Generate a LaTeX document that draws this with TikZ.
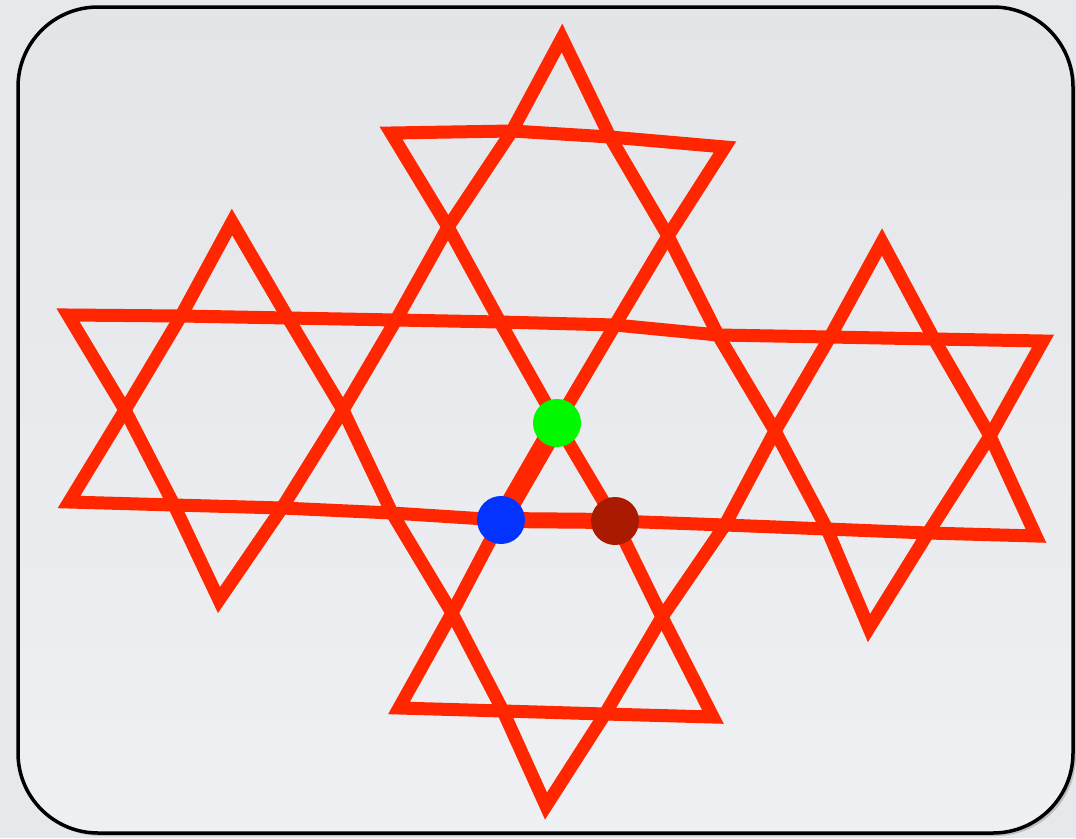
\documentclass[tikz,border=0pt]{standalone}
\definecolor{starred}{RGB}{255,38,0}
\definecolor{dotgreen}{RGB}{0,249,0}
\definecolor{dotblue}{RGB}{4,51,255}
\definecolor{dotbrown}{RGB}{170,26,0}
\definecolor{outerbg}{RGB}{230,232,235}
\definecolor{innertop}{RGB}{227,229,233}
\definecolor{innerbot}{RGB}{239,240,243}
\begin{document}
\begin{tikzpicture}[x=1pt,y=-1pt,
  starline/.style={draw=starred, line width=13pt, line join=miter, miter limit=10},
  dotnode/.style={circle, minimum size=48pt, inner sep=0pt, draw=none}]
\useasboundingbox (0,0) rectangle (1076,838);
\fill[outerbg] (0,0) rectangle (1076,838);
\fill[black!25, rounded corners=80pt] (21,10) rectangle (1076,836);
\draw[line width=3.5pt, top color=innertop, bottom color=innerbot, rounded corners=80pt] (18,7) rectangle (1073,833);
% lattice points
\coordinate (T) at (562,38);
\coordinate (L) at (232,222);
\coordinate (R) at (882,242);
\coordinate (B) at (546,806);
\coordinate (LB) at (219,600);
\coordinate (RB) at (869,628);
\coordinate (A1) at (391,133);
\coordinate (A2) at (512,131);
\coordinate (A3) at (610,137);
\coordinate (A4) at (725,147);
\coordinate (M1) at (448,227);
\coordinate (M2) at (668,236);
\coordinate (P1) at (68,315);
\coordinate (P2) at (181,316);
\coordinate (P3) at (288,318);
\coordinate (P4) at (396,320);
\coordinate (P5) at (500,322);
\coordinate (P6) at (615,325);
\coordinate (P7) at (718,335);
\coordinate (P8) at (830,337);
\coordinate (P9) at (934,339);
\coordinate (P10) at (1043,341);
\coordinate (K1) at (125,410);
\coordinate (K2) at (343,410);
\coordinate (G) at (557,423);
\coordinate (K4) at (775,431);
\coordinate (K5) at (990,436);
\coordinate (Q1) at (69,502);
\coordinate (Q2) at (174,505);
\coordinate (Q3) at (282,508);
\coordinate (Q4) at (392,513);
\coordinate (BL) at (501,520);
\coordinate (BR) at (615,521);
\coordinate (Q7) at (725,525);
\coordinate (Q8) at (827,529);
\coordinate (Q9) at (928,533);
\coordinate (Q10) at (1036,536);
\coordinate (N1) at (452,613);
\coordinate (N2) at (662,617);
\coordinate (W1) at (399,708);
\coordinate (W2) at (503,711);
\coordinate (W3) at (605,714);
\coordinate (W4) at (713,717);
% loop 1
\draw[starline] (T) -- (A3) -- (M2) -- (P7) -- (K4) -- (Q8) -- (RB) -- (Q9) -- (K5) -- (P10)
  -- (P9) -- (P8) -- (P7) -- (P6) -- (P5) -- (P4) -- (P3) -- (P2) -- (P1)
  -- (K1) -- (Q2) -- (LB) -- (Q3) -- (K2) -- (P4) -- (M1) -- (A2) -- cycle;
% loop 2
\draw[starline] (L) -- (P3) -- (K2) -- (Q4) -- (N1) -- (W2) -- (B) -- (W3) -- (N2) -- (Q7)
  -- (K4) -- (P8) -- (R) -- (P9) -- (K5) -- (Q10) -- (Q9) -- (Q8) -- (Q7) -- (BR) -- (BL)
  -- (Q4) -- (Q3) -- (Q2) -- (Q1) -- (K1) -- (P2) -- cycle;
% loop 3
\draw[starline] (A1) -- (A2) -- (A3) -- (A4) -- (M2) -- (P6) -- (G) -- (BL) -- (N1) -- (W1)
  -- (W2) -- (W3) -- (W4) -- (N2) -- (BR) -- (G) -- (P5) -- (M1) -- cycle;
% highlighted edges
\draw[draw=starred, line width=20pt] (G) -- (BL);
\draw[draw=starred, line width=16pt] (BL) -- (BR);
% dots
\node[dotnode, fill=dotgreen] (gdot) at (G) {};
\node[dotnode, fill=dotblue] (bdot) at (BL) {};
\node[dotnode, fill=dotbrown] (rdot) at (BR) {};
\end{tikzpicture}
\end{document}
